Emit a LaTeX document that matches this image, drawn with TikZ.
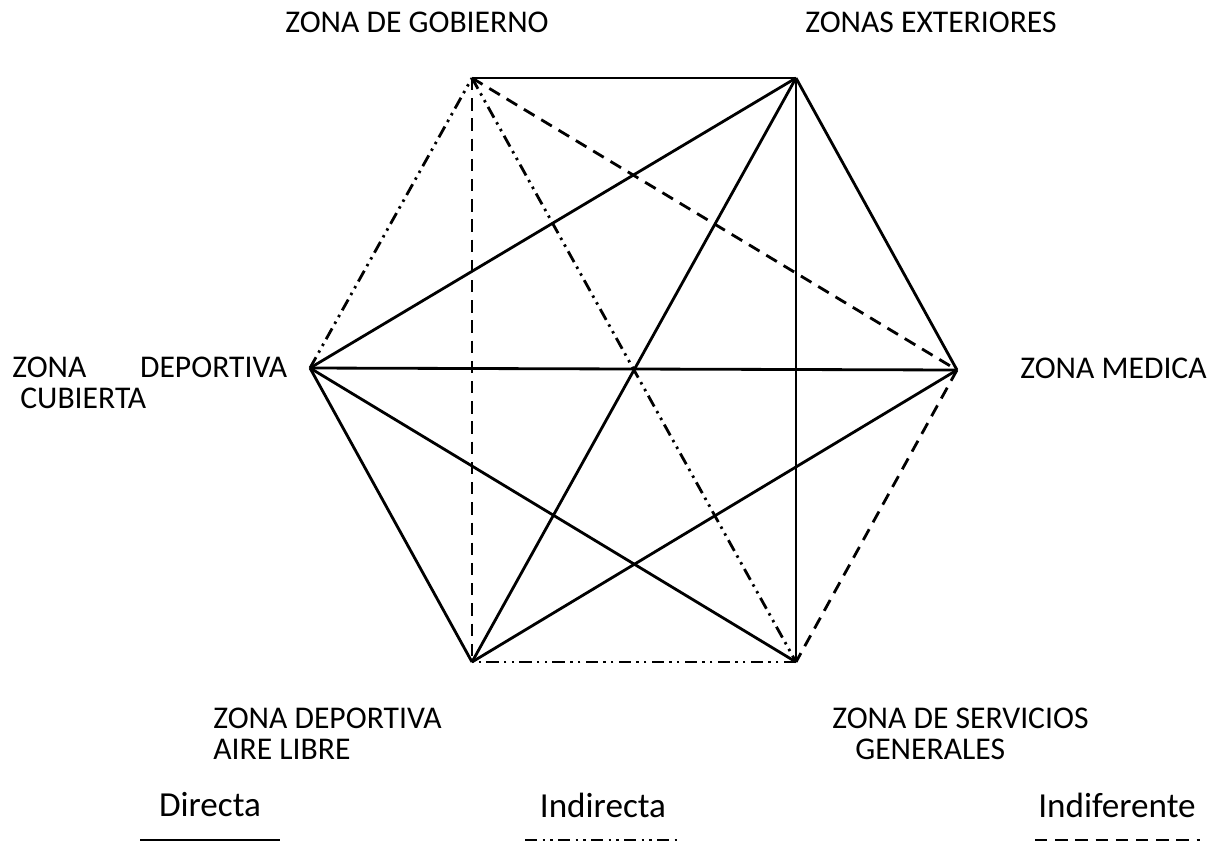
\documentclass[tikz,border=0pt]{standalone}
\usepackage{fontspec}
\setmainfont{Carlito}
\usetikzlibrary{positioning}
\tikzset{
  directa/.style={line width=1.6pt},
  indirecta/.style={line width=1.6pt, dash pattern=on 7pt off 3pt on 1.4pt off 3pt on 1.4pt off 3pt},
  indiferente/.style={line width=1.6pt, dash pattern=on 7pt off 4.5pt},
  zona/.style={font=\fontsize{18}{17.5}\selectfont, inner sep=0pt},
  leyenda/.style={font=\fontsize{20}{24}\selectfont, inner sep=0pt}
}

\begin{document}
\begin{tikzpicture}[x=0.02cm, y=-0.02cm]
			\useasboundingbox (0,0) rectangle (1232,867);
			% Vertices of the hexagon
			\coordinate (gob) at (472,78);
			\coordinate (ext) at (796,78);
			\coordinate (med) at (957,370);
			\coordinate (serv) at (796,662);
			\coordinate (aire) at (472,662);
			\coordinate (cub) at (310,368);
			% Zone labels
			\node[zona] (lgob) at (417,22) {ZONA DE GOBIERNO};
			\node[zona] (lext) at (931,22) {ZONAS EXTERIORES};
			\node[zona, anchor=west] (lmed) at (1020,368) {ZONA MEDICA};
			\node[zona, anchor=north west, align=left] (lcub) at (12,357) {\makebox[5.5cm][l]{ZONA\hfill DEPORTIVA}\\\hspace{0.16cm}CUBIERTA};
			\node[zona, anchor=north west, align=left] (laire) at (213,708) {ZONA DEPORTIVA\\AIRE LIBRE};
			\node[zona, anchor=north west, align=left] (lserv) at (832,708) {ZONA DE SERVICIOS\\\hspace{0.46cm}GENERALES};
			% Relations
			\draw[directa] (gob) -- (ext);
			\draw[directa] (ext) -- (med);
			\draw[indiferente] (med) -- (serv);
			\draw[indirecta] (serv) -- (aire);
			\draw[directa] (aire) -- (cub);
			\draw[indirecta] (cub) -- (gob);
			\draw[indiferente] (gob) -- (aire);
			\draw[indiferente] (gob) -- (med);
			\draw[indirecta] (gob) -- (serv);
			\draw[directa] (ext) -- (cub);
			\draw[directa] (ext) -- (aire);
			\draw[directa] (ext) -- (serv);
			\draw[directa] (cub) -- (med);
			\draw[directa] (cub) -- (serv);
			\draw[directa] (aire) -- (med);
			% Legend
			\node[leyenda] (ldir) at (210,805) {Directa};
			\node[leyenda] (lind) at (603,805) {Indirecta};
			\node[leyenda] (lindif) at (1117,805) {Indiferente};
			\coordinate (dira) at (140,840);
			\coordinate (dirb) at (280,840);
			\coordinate (inda) at (525,840);
			\coordinate (indb) at (682,840);
			\coordinate (difa) at (1035,840);
			\coordinate (difb) at (1200,840);
			\draw[directa] (dira) -- (dirb);
			\draw[indirecta, line width=1pt] (inda) -- (indb);
			\draw[indiferente] (difa) -- (difb);
		\end{tikzpicture}
\end{document}
